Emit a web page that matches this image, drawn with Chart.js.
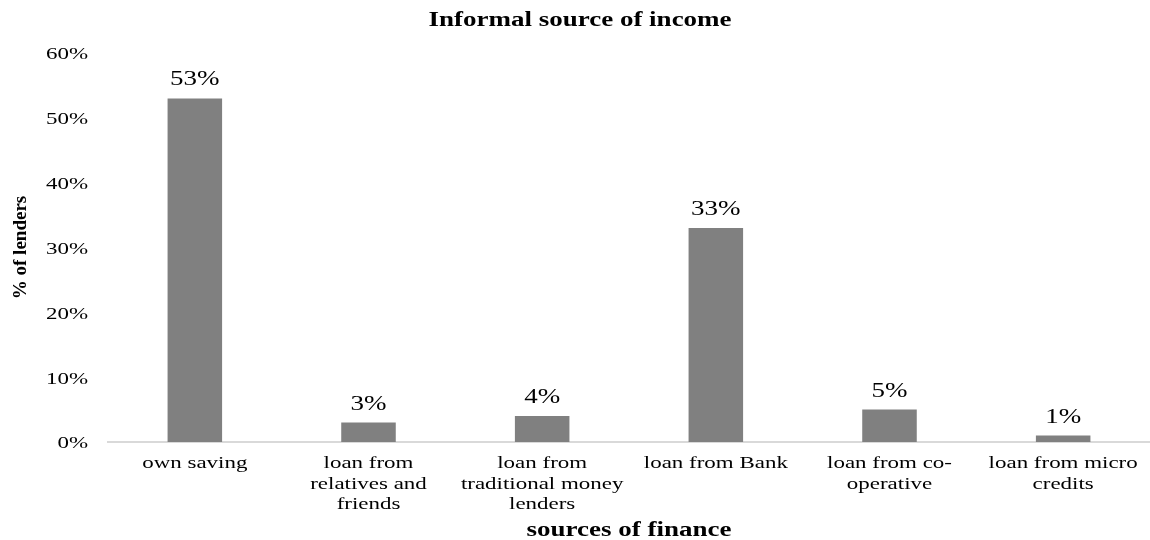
<!DOCTYPE html>
<html>
<head>
<meta charset="utf-8">
<script src="https://cdn.jsdelivr.net/npm/chart.js@4/dist/chart.umd.min.js"></script>
<style>
  html, body { margin: 0; padding: 0; background: #ffffff; }
  #wrap { width: 1150px; height: 540px; position: relative; }
</style>
</head>
<body>
<div id="wrap"><canvas id="c" width="1150" height="540"></canvas></div>
<script>
const categories = [
  ["own saving"],
  ["loan from", "relatives and", "friends"],
  ["loan from", "traditional money", "lenders"],
  ["loan from Bank"],
  ["loan from co-", "operative"],
  ["loan from micro", "credits"]
];
const values = [53, 3, 4, 33, 5, 1];
const yTicks = [0, 10, 20, 30, 40, 50, 60];
const chartTitle = "Informal source of income";
const xTitle = "sources of finance";
const yTitle = "% of lenders";

const FONT = "'Liberation Serif', 'Times New Roman', serif";
const TEXT_STRETCH = 1.35; // the reference's horizontal text is drawn wide

const canvas = document.getElementById('c');
const ctx2d = canvas.getContext('2d');
const origFillText = ctx2d.fillText;
ctx2d.fillText = function (text, x, y, maxWidth) {
  const m = this.getTransform();
  if (Math.abs(m.b) > 1e-6 || Math.abs(m.c) > 1e-6) {
    return maxWidth === undefined ? origFillText.call(this, text, x, y)
                                  : origFillText.call(this, text, x, y, maxWidth);
  }
  this.save();
  this.translate(x, y);
  this.scale(TEXT_STRETCH, 1);
  if (maxWidth === undefined) origFillText.call(this, text, 0, 0);
  else origFillText.call(this, text, 0, 0, maxWidth / TEXT_STRETCH);
  this.restore();
};

const valueLabels = {
  id: 'valueLabels',
  afterDatasetsDraw(chart) {
    const ctx = chart.ctx;
    const meta = chart.getDatasetMeta(0);
    ctx.save();
    ctx.font = "20px " + FONT;
    ctx.fillStyle = "#000000";
    ctx.textAlign = "center";
    ctx.textBaseline = "alphabetic";
    meta.data.forEach((bar, i) => {
      ctx.fillText(values[i] + "%", bar.x, bar.y - 13);
    });
    ctx.restore();
  }
};

new Chart(canvas, {
  type: 'bar',
  data: {
    labels: categories,
    datasets: [{
      data: values,
      backgroundColor: '#808080',
      borderWidth: 0,
      barPercentage: 0.314,
      categoryPercentage: 1.0
    }]
  },
  options: {
    responsive: false,
    animation: false,
    devicePixelRatio: 1,
    layout: { padding: { left: 0, right: -10, top: 0, bottom: 0 } },
    plugins: {
      legend: { display: false },
      tooltip: { enabled: false },
      title: {
        display: true,
        text: chartTitle,
        color: '#000000',
        font: { family: FONT, size: 20, weight: 'bold', lineHeight: 1.2 },
        padding: { top: 9, bottom: 20 }
      }
    },
    scales: {
      x: {
        grid: { display: false, drawTicks: false },
        border: { display: true, color: '#d9d9d9', width: 2 },
        ticks: {
          color: '#000000',
          font: { family: FONT, size: 17, lineHeight: 1.18 },
          padding: 12,
          maxRotation: 0,
          autoSkip: false
        },
        title: {
          display: true,
          text: xTitle,
          color: '#000000',
          font: { family: FONT, size: 20, weight: 'bold', lineHeight: 0.9 },
          padding: { top: 0, bottom: 0 }
        },
        afterFit(scale) { scale.height = 98; }
      },
      y: {
        min: 0,
        max: 60,
        grid: { display: false, drawTicks: false },
        border: { display: false },
        afterBuildTicks(scale) { scale.ticks = yTicks.map(v => ({ value: v })); },
        ticks: {
          color: '#000000',
          font: { family: FONT, size: 17 },
          padding: 20,
          labelOffset: 2,
          callback: v => v + '%'
        },
        title: {
          display: true,
          text: yTitle,
          color: '#000000',
          font: { family: FONT, size: 19, weight: 'bold' },
          padding: { top: 10, bottom: 0 }
        },
        afterFit(scale) { scale.width = 108; }
      }
    }
  },
  plugins: [valueLabels]
});
</script>
</body>
</html>
